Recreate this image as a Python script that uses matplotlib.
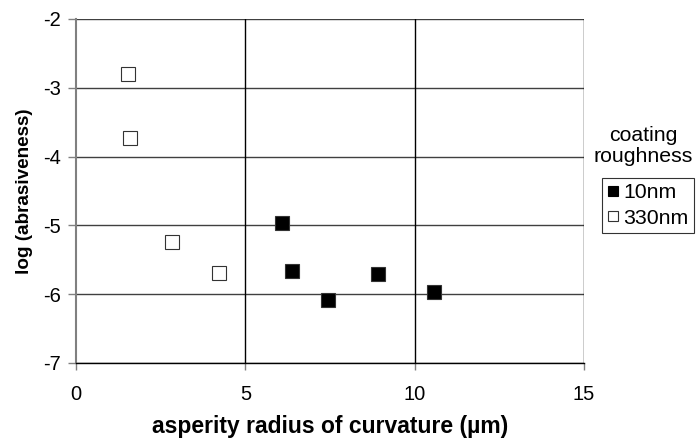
import matplotlib
matplotlib.use("Agg")
import matplotlib.pyplot as plt
from matplotlib.lines import Line2D

plt.rcParams['font.family'] = ['Liberation Sans', 'DejaVu Sans']
plt.rcParams['axes.unicode_minus'] = False

# asperity radius (um) vs log(abrasiveness)
radius_10nm = [6.07, 6.39, 7.45, 8.93, 10.58]
log_abr_10nm = [-4.97, -5.66, -6.09, -5.70, -5.97]

radius_330nm = [1.54, 1.60, 2.83, 4.22]
log_abr_330nm = [-2.80, -3.73, -5.24, -5.69]

x_ticks = [0, 5, 10, 15]
y_ticks = [-7, -6, -5, -4, -3, -2]

fig = plt.figure(figsize=(6.96, 4.4), dpi=100)
ax = fig.add_axes([76 / 696, 1 - 363 / 440, 508 / 696, 344 / 440])

ax.set_xlim(0, 15)
ax.set_ylim(-7, -2)
ax.set_xticks(x_ticks)
ax.set_yticks(y_ticks)

# grid lines
for yv in y_ticks:
    ax.axhline(yv, color='#404040', lw=1.0, zorder=1)
for xv in x_ticks[1:]:
    ax.axvline(xv, color='black', lw=1.0, zorder=1)

ax.spines['top'].set_visible(False)
ax.spines['right'].set_visible(False)
ax.spines['left'].set_color('#808080')
ax.spines['left'].set_linewidth(1.5)
ax.spines['bottom'].set_color('black')
ax.spines['bottom'].set_linewidth(1.0)

ax.tick_params(axis='y', direction='out', length=6, width=1, color='#808080', labelsize=14.5, pad=5)
ax.tick_params(axis='x', direction='out', length=5, width=1, color='#808080', labelsize=14.5, pad=10.5)

ax.plot(radius_10nm, log_abr_10nm, ls='none', marker='s', ms=10.5,
        mfc='black', mec='#333333', mew=0.8, zorder=3, clip_on=False)
ax.plot(radius_330nm, log_abr_330nm, ls='none', marker='s', ms=10.5,
        mfc='white', mec='#333333', mew=0.8, zorder=3, clip_on=False)

ax.set_xlabel('asperity radius of curvature (µm)', fontsize=16.5, fontweight='bold', labelpad=8)
ax.set_ylabel('log (abrasiveness)', fontsize=13.6, fontweight='bold', labelpad=7)

# legend title sits outside the box
fig.text(643 / 696, 1 - 146 / 440, 'coating\nroughness', ha='center', va='center',
         fontsize=15.3, linespacing=1.1)

handles = [
    Line2D([], [], ls='none', marker='s', ms=7.5, mfc='black', mec='black', mew=0.8),
    Line2D([], [], ls='none', marker='s', ms=7.5, mfc='white', mec='#333333', mew=0.8),
]
leg = fig.legend(handles, ['10nm', '330nm'], loc='upper left',
                 bbox_to_anchor=(602 / 696, 1 - 178 / 440),
                 fontsize=15.3, frameon=True, fancybox=False, edgecolor='black',
                 handlelength=0.5, handletextpad=0.25, borderpad=0.25,
                 labelspacing=0.3, borderaxespad=0)
leg.get_frame().set_linewidth(0.8)

fig.savefig('out.png', dpi=100)
